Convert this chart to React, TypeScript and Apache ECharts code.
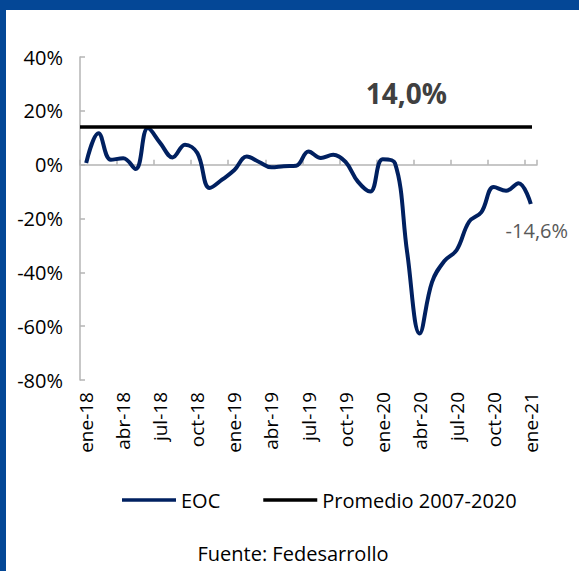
import React, { useEffect, useRef } from "react";
import * as echarts from "echarts";

const months: string[] = [
  "ene-18", "feb-18", "mar-18", "abr-18", "may-18", "jun-18", "jul-18", "ago-18", "sep-18", "oct-18", "nov-18", "dic-18",
  "ene-19", "feb-19", "mar-19", "abr-19", "may-19", "jun-19", "jul-19", "ago-19", "sep-19", "oct-19", "nov-19", "dic-19",
  "ene-20", "feb-20", "mar-20", "abr-20", "may-20", "jun-20", "jul-20", "ago-20", "sep-20", "oct-20", "nov-20", "dic-20",
  "ene-21",
];

const eoc: number[] = [
  0.6, 11.7, 1.8, 2.4, -1.6, 13.6, 8.0, 2.7, 7.4, 4.3, -8.7, -5.6,
  -2.0, 3.0, 1.0, -1.0, -0.6, -0.4, 4.9, 2.5, 3.7, 1.0, -6.3, -10.0,
  2.0, 0.6, -33.0, -62.7, -43.6, -35.8, -31.7, -21.2, -17.6, -8.3, -9.7, -6.9,
  -14.6,
];

const promedioValue = 14.0;
const promedioStart = "ene-18";
const promedioEnd = "ene-21";
const promedioLabelAt = "mar-20";

const yTicks = { min: -80, max: 40, interval: 20 };

const FONT = "'Open Sans', 'Noto Sans', sans-serif";

const fmt = (v: number) => v.toFixed(1).replace(".", ",") + "%";

export default function App() {
  const ref = useRef<HTMLDivElement>(null);
  useEffect(() => {
    if (!ref.current) return;
    const chart = echarts.init(ref.current, null, { renderer: "svg" });
    const last = eoc.length - 1;
    chart.setOption({
      animation: false,
      backgroundColor: "#ffffff",
      textStyle: { fontFamily: FONT },
      grid: [
        { left: 80, top: 57, right: 42, bottom: 191, containLabel: false },
        { left: 80, top: 57, width: 452, height: 323, containLabel: false },
      ],
      xAxis: [
        {
          gridIndex: 0,
          type: "category",
          data: months,
          boundaryGap: true,
          position: "bottom",
          axisLine: { show: false, onZero: false },
          axisTick: { show: false },
          axisLabel: {
            interval: 2,
            rotate: 90,
            margin: 12,
            fontSize: 19,
            color: "#000000",
            fontFamily: FONT,
          },
        },
        {
          gridIndex: 0,
          type: "category",
          data: months,
          boundaryGap: true,
          position: "bottom",
          axisLine: { show: true, onZero: true, lineStyle: { color: "#B4B4B4", width: 1.5 } },
          axisTick: { show: true, inside: true, interval: 2, length: 5, lineStyle: { color: "#B4B4B4", width: 1.5 } },
          axisLabel: { show: false },
        },
        {
          gridIndex: 1,
          type: "category",
          data: months,
          boundaryGap: false,
          show: false,
        },
      ],
      yAxis: [
        {
          gridIndex: 0,
          type: "value",
          min: yTicks.min,
          max: yTicks.max,
          interval: yTicks.interval,
          axisLine: { show: true, lineStyle: { color: "#B4B4B4", width: 1.5 } },
          axisTick: { show: true, inside: true, length: 5, lineStyle: { color: "#B4B4B4", width: 1.5 } },
          splitLine: { show: false },
          axisLabel: {
            formatter: "{value}%",
            fontSize: 20,
            color: "#000000",
            margin: 17,
            fontFamily: FONT,
          },
        },
        {
          gridIndex: 1,
          type: "value",
          min: yTicks.min,
          max: yTicks.max,
          interval: yTicks.interval,
          show: false,
        },
      ],
      legend: {
        data: ["EOC", "Promedio 2007-2020"],
        left: 122,
        top: 490,
        icon: "rect",
        itemWidth: 54,
        itemHeight: 3.5,
        itemGap: 43,
        padding: 0,
        textStyle: { fontSize: 20, color: "#000000", fontFamily: FONT },
      },
      series: [
        {
          name: "EOC",
          type: "line",
          xAxisIndex: 0,
          yAxisIndex: 0,
          smooth: 0.4,
          symbol: "none",
          lineStyle: { color: "#002060", width: 4 },
          itemStyle: { color: "#002060" },
          data: eoc,
          markPoint: {
            symbol: "circle",
            symbolSize: 0,
            data: [{ coord: [months[last], eoc[last]], value: eoc[last] }],
            label: {
              show: true,
              position: "bottom",
              distance: 17,
              offset: [6, 0],
              formatter: (p: any) => fmt(p.value),
              fontSize: 20,
              color: "#595959",
              fontFamily: FONT,
            },
          },
        },
        {
          name: "Promedio 2007-2020",
          type: "line",
          xAxisIndex: 2,
          yAxisIndex: 1,
          symbol: "none",
          lineStyle: { color: "#000000", width: 3.5 },
          itemStyle: { color: "#000000" },
          data: [
            [promedioStart, promedioValue],
            [promedioEnd, promedioValue],
          ],
          markPoint: {
            symbol: "circle",
            symbolSize: 0,
            data: [{ coord: [promedioLabelAt, promedioValue], value: promedioValue }],
            label: {
              show: true,
              position: "top",
              distance: 20,
              formatter: (p: any) => fmt(p.value),
              fontSize: 28,
              fontWeight: "bold",
              color: "#404040",
              fontFamily: FONT,
            },
          },
        },
      ],
      graphic: [
        { type: "rect", left: 0, top: 0, shape: { x: 0, y: 0, width: 579, height: 10 }, style: { fill: "#044796" } },
        { type: "rect", left: 0, top: 0, shape: { x: 0, y: 0, width: 6, height: 571 }, style: { fill: "#044796" } },
        {
          type: "text",
          x: 293,
          y: 553,
          style: {
            text: "Fuente: Fedesarrollo",
            fontSize: 20,
            fill: "#000000",
            fontFamily: FONT,
            textAlign: "center",
            textVerticalAlign: "middle",
          },
        },
      ],
    });
    return () => chart.dispose();
  }, []);
  return (
    <div
      ref={ref}
      style={{ position: "fixed", left: 0, top: 0, width: 579, height: 571, background: "#fff" }}
    />
  );
}
